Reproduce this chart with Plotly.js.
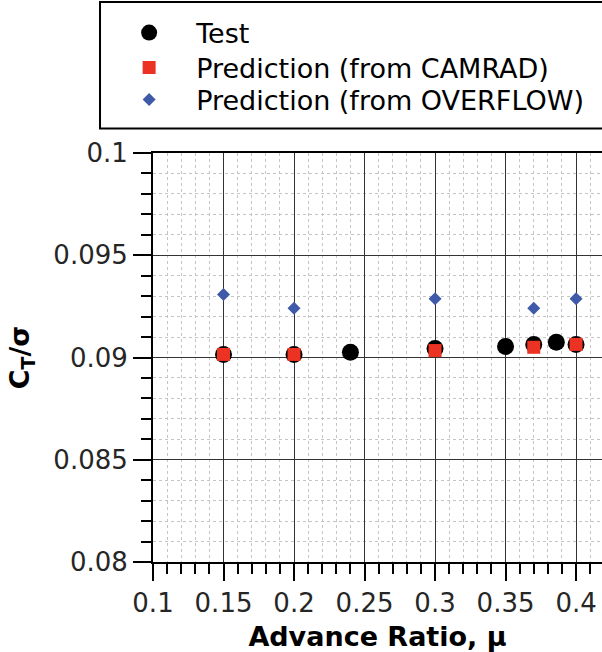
<!DOCTYPE html>
<html>
<head>
<meta charset="utf-8">
<script src="https://cdn.plot.ly/plotly-3.0.1.min.js"></script>
<style>html,body{margin:0;padding:0;background:#fff;}#chart{width:602px;height:652px;}</style>
</head>
<body>
<div id="chart"></div>
<script>
// Test data
var testMu = [0.15, 0.20, 0.24, 0.30, 0.35, 0.37, 0.386, 0.40];
var testCT = [0.09015, 0.09015, 0.09026, 0.09044, 0.09054, 0.09064, 0.09075, 0.09064];
// CAMRAD predictions
var camradMu = [0.15, 0.20, 0.30, 0.37, 0.40];
var camradCT = [0.09015, 0.09015, 0.09034, 0.0905, 0.09064];
// OVERFLOW predictions
var overflowMu = [0.15, 0.20, 0.30, 0.37, 0.40];
var overflowCT = [0.09308, 0.09241, 0.09287, 0.09241, 0.09287];

var seriesNames = ['Test', 'Prediction (from CAMRAD)', 'Prediction (from OVERFLOW)'];
var xTickVals = [0.1, 0.15, 0.2, 0.25, 0.3, 0.35, 0.4];
var xTickText = ['0.1', '0.15', '0.2', '0.25', '0.3', '0.35', '0.4'];
var yTickVals = [0.08, 0.085, 0.09, 0.095, 0.1];
var yTickText = ['0.08', '0.085', '0.09', '0.095', '0.1'];

var FONT = 'DejaVu Sans, Verdana, sans-serif';

var traces = [
  {x: testMu, y: testCT, name: seriesNames[0], mode: 'markers', type: 'scatter', legend: 'legend',
   marker: {symbol: 'circle', size: 17, color: '#000000'}},
  {x: camradMu, y: camradCT, name: seriesNames[1], mode: 'markers', type: 'scatter', legend: 'legend2',
   marker: {symbol: 'square', size: 13, color: '#ec3223'}},
  {x: overflowMu, y: overflowCT, name: seriesNames[2], mode: 'markers', type: 'scatter', legend: 'legend3',
   marker: {symbol: 'diamond', size: 10, color: '#3f5aa9'}}
];

function leg(y) {
  return {
    x: -0.1133, y: y, xanchor: 'left', yanchor: 'middle',
    bgcolor: 'rgba(0,0,0,0)', borderwidth: 0,
    font: {family: FONT, size: 27, color: '#000'},
    itemwidth: 84
  };
}

var layout = {
  width: 602, height: 652,
  margin: {l: 153, r: 0, t: 153, b: 90, pad: 0},
  paper_bgcolor: '#ffffff', plot_bgcolor: '#ffffff',
  font: {family: FONT, size: 26, color: '#262626'},
  showlegend: true,
  legend: leg(1.2934),
  legend2: leg(1.2078),
  legend3: leg(1.1296),
  shapes: [
    {type: 'rect', xref: 'paper', yref: 'paper', x0: -0.118, x1: 1.02, y0: 1.06, y1: 1.369,
     line: {color: '#000', width: 2}, fillcolor: 'rgba(0,0,0,0)', layer: 'above'}
  ],
  xaxis: {
    range: [0.1, 0.4184],
    tickmode: 'array', tickvals: xTickVals, ticktext: xTickText,
    ticks: 'outside', ticklen: 17, tickwidth: 2, tickcolor: '#000',
    showline: true, linecolor: '#000', linewidth: 2, mirror: true,
    showgrid: true, gridcolor: '#333', gridwidth: 1,
    zeroline: false,
    tickfont: {family: FONT, size: 26, color: '#262626'},
    minor: {dtick: 0.01, tick0: 0.1, ticks: 'outside', ticklen: 10, tickwidth: 2, tickcolor: '#000',
            showgrid: true, gridcolor: '#c4c4c4', gridwidth: 1, griddash: 'dot'},
    title: {text: '<b>Advance Ratio, μ</b>', font: {family: FONT, size: 27, color: '#000'}, standoff: 10}
  },
  yaxis: {
    range: [0.08, 0.1],
    tickmode: 'array', tickvals: yTickVals, ticktext: yTickText,
    ticks: 'outside', ticklen: 18, tickwidth: 2, tickcolor: '#000',
    showline: true, linecolor: '#000', linewidth: 2, mirror: false,
    showgrid: true, gridcolor: '#333', gridwidth: 1,
    zeroline: false,
    tickfont: {family: FONT, size: 26, color: '#262626'},
    minor: {dtick: 0.001, tick0: 0.08, ticks: 'outside', ticklen: 10, tickwidth: 2, tickcolor: '#000',
            showgrid: true, gridcolor: '#c4c4c4', gridwidth: 1, griddash: 'dot'},
    title: {text: '<b>C<sub>T</sub>/σ</b>', font: {family: FONT, size: 27, color: '#000'}, standoff: 16}
  }
};

Plotly.newPlot('chart', traces, layout, {displayModeBar: false, staticPlot: true});
</script>
</body>
</html>
